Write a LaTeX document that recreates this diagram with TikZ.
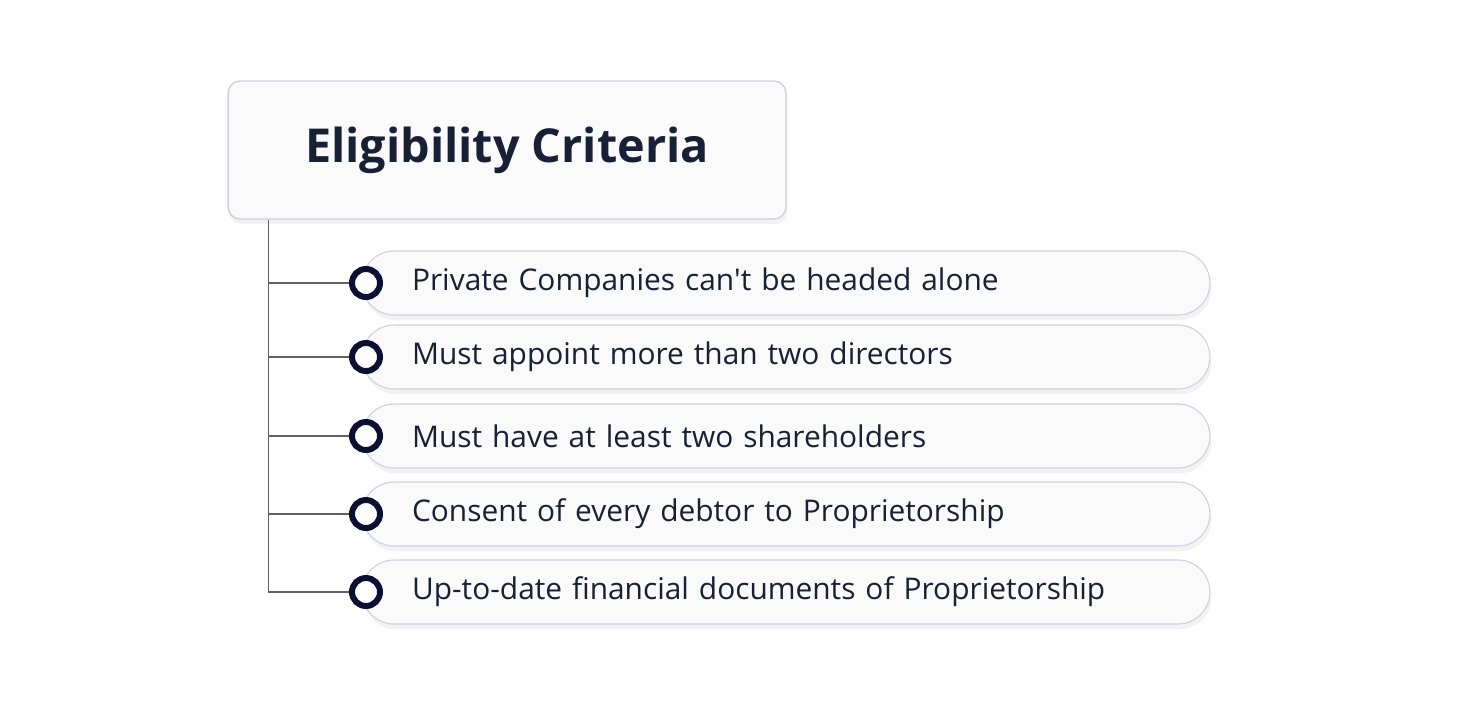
\documentclass[tikz,border=0pt]{standalone}
\usepackage{fontspec}
\setmainfont{Open Sans}
\usepackage{tikz}
\usetikzlibrary{shadows, positioning}
\definecolor{navy}{HTML}{0B1033}
\definecolor{inktext}{HTML}{172035}
\definecolor{boxfill}{HTML}{FAFAFA}
\definecolor{boxline}{HTML}{CFCCE6}
\definecolor{branch}{HTML}{5F6168}
\tikzstyle{titlebox} = [rectangle, rounded corners=0.24cm, minimum width=11.16cm, minimum height=2.76cm, draw=boxline, line width=0.8pt, fill=boxfill, text=inktext, font=\fontsize{26.6}{32}\selectfont\bfseries, drop shadow={shadow xshift=1pt, shadow yshift=-3pt, opacity=0.10}]
\tikzstyle{pill} = [rectangle, rounded corners=0.64cm, minimum width=16.96cm, minimum height=1.28cm, text width=14.96cm, inner xsep=1cm, align=left, draw=boxline, line width=0.6pt, fill=boxfill, text=inktext, font=\fontsize{17}{20}\selectfont, drop shadow={shadow xshift=1pt, shadow yshift=-3pt, opacity=0.10}]
\tikzstyle{dot} = [circle, minimum size=0.56cm, inner sep=0pt, draw=navy, line width=0.12cm, fill=white]
\tikzstyle{link} = [draw=branch, line width=0.9pt]

\begin{document}
\begin{tikzpicture}[x=0.02cm, y=-0.02cm]
\useasboundingbox (0,0) rectangle (1484,704);

\node (title) [titlebox] at (507,150) {Eligibility Criteria};

\foreach \i/\py/\txt in {1/283/{Private Companies can\textquotesingle t be headed alone},
                         2/357/{Must appoint more than two directors},
                         3/436/{Must have at least two shareholders},
                         4/514/{Consent of every debtor to Proprietorship},
                         5/592/{Up-to-date financial documents of Proprietorship}} {
  \node (crit\i) [pill] at (786,\py) {\txt};
  \node (dot\i) [dot] at (366,\py) {};
}

% trunk from the title down to the last item
\coordinate (trunk) at ([xshift=0.82cm]title.south west);
\draw [link] (trunk) |- (dot5.west);
\foreach \i in {1,2,3,4}
  \draw [link] (dot\i.west -| trunk) -- (dot\i.west);

\end{tikzpicture}
\end{document}
